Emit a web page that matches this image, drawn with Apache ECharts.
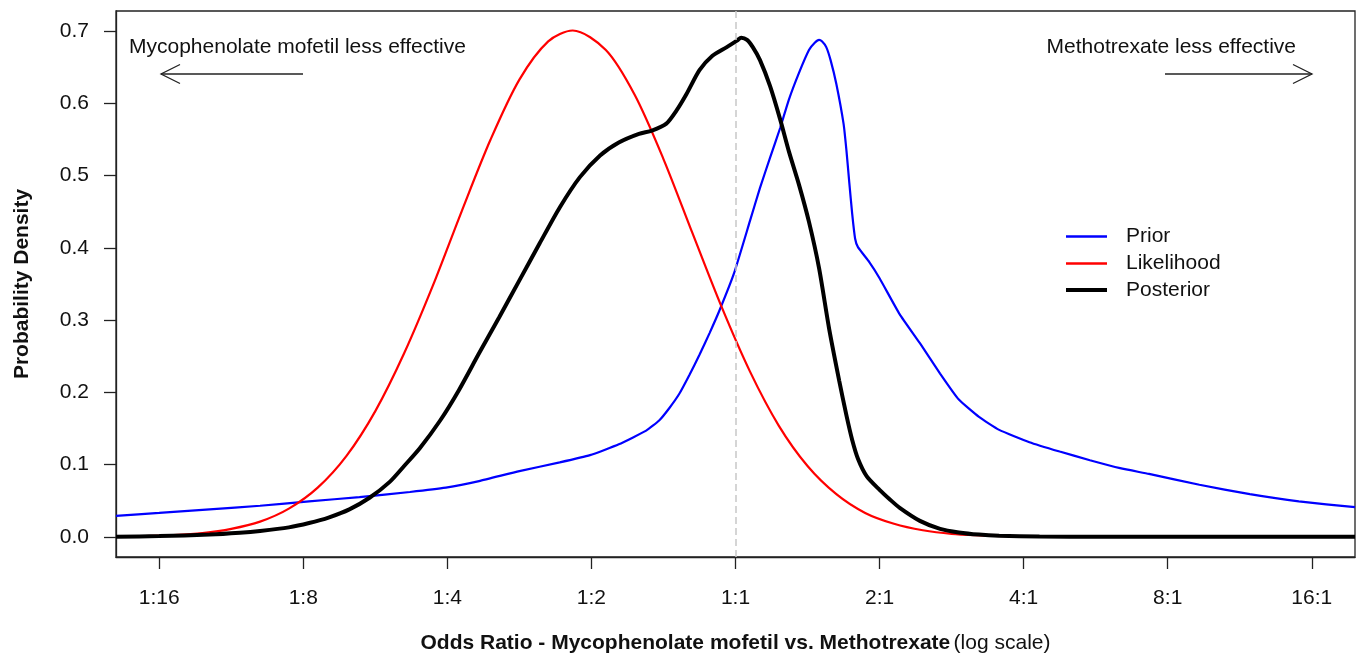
<!DOCTYPE html>
<html>
<head>
<meta charset="utf-8">
<script src="https://cdn.jsdelivr.net/npm/echarts@6/dist/echarts.min.js"></script>
<style>
html,body{margin:0;padding:0;background:#fff;}
#chart{width:1361px;height:660px;}
</style>
</head>
<body>
<div id="chart"></div>
<script>
// x values are log2(odds ratio)
const xTickValues = [-4, -3, -2, -1, 0, 1, 2, 3, 4];
const xTickLabels = ['1:16', '1:8', '1:4', '1:2', '1:1', '2:1', '4:1', '8:1', '16:1'];
const yTickValues = [0, 0.1, 0.2, 0.3, 0.4, 0.5, 0.6, 0.7];

const priorLog2OR = [-4.30,-4.00,-3.65,-3.30,-2.96,-2.61,-2.26,-2.01,-1.78,-1.50,-1.22,-1.01,-0.81,-0.62,-0.53,-0.46,-0.39,-0.32,-0.25,-0.18,-0.11,-0.01,0.10,0.17,0.24,0.31,0.37,0.44,0.51,0.55,0.58,0.60,0.63,0.66,0.70,0.75,0.77,0.79,0.81,0.83,0.85,0.93,1.00,1.14,1.28,1.42,1.55,1.69,1.83,2.04,2.25,2.46,2.67,2.87,3.22,3.57,3.91,4.30];
const priorDensity = [0.029,0.033,0.038,0.043,0.049,0.055,0.062,0.068,0.077,0.091,0.103,0.113,0.128,0.147,0.161,0.178,0.198,0.224,0.252,0.282,0.314,0.365,0.437,0.483,0.525,0.566,0.605,0.642,0.674,0.684,0.688,0.686,0.678,0.660,0.627,0.572,0.535,0.490,0.447,0.413,0.401,0.380,0.358,0.308,0.268,0.226,0.190,0.166,0.148,0.131,0.118,0.106,0.095,0.087,0.072,0.059,0.049,0.041];

const likLog2OR = [-4.3,-4.1,-3.9,-3.7,-3.5,-3.3,-3.1,-2.9,-2.7,-2.5,-2.3,-2.1,-1.9,-1.7,-1.5,-1.3,-1.13,-0.9,-0.7,-0.5,-0.3,-0.1,0.1,0.3,0.5,0.7,0.9,1.1,1.3,1.5,1.7,1.9,2.07];
const likDensity = [0.0004,0.001,0.0024,0.0052,0.011,0.021,0.039,0.068,0.112,0.174,0.254,0.348,0.451,0.550,0.633,0.686,0.701,0.674,0.612,0.523,0.421,0.320,0.229,0.154,0.098,0.059,0.033,0.018,0.009,0.004,0.002,0.0008,0.0004];

const postLog2OR = [-4.30,-4.00,-3.65,-3.44,-3.30,-3.10,-2.96,-2.82,-2.68,-2.54,-2.40,-2.30,-2.19,-2.05,-1.92,-1.78,-1.64,-1.50,-1.36,-1.22,-1.08,-0.94,-0.81,-0.67,-0.58,-0.48,-0.41,-0.34,-0.25,-0.16,-0.06,0.01,0.04,0.08,0.12,0.17,0.24,0.31,0.37,0.44,0.51,0.58,0.65,0.72,0.77,0.81,0.85,0.91,1.00,1.07,1.14,1.28,1.42,1.55,1.69,1.83,2.11,2.53,4.30];
const postDensity = [0.000,0.001,0.003,0.0055,0.008,0.013,0.019,0.027,0.038,0.054,0.076,0.098,0.123,0.161,0.203,0.254,0.304,0.355,0.406,0.456,0.498,0.528,0.546,0.558,0.5625,0.572,0.590,0.613,0.646,0.666,0.678,0.687,0.691,0.688,0.678,0.660,0.624,0.578,0.534,0.488,0.436,0.372,0.288,0.216,0.168,0.134,0.108,0.084,0.065,0.052,0.040,0.022,0.011,0.006,0.003,0.0015,0.0005,0.000,0.000];

const FONT = '"Liberation Sans", Arial, Helvetica, sans-serif';
const pairs = (xs, ys) => xs.map((x, i) => [x, ys[i]]);
const xLabelFor = v => xTickLabels[xTickValues.indexOf(Math.round(v))];

const legendBase = {
  orient: 'vertical', left: 1066, padding: 0, icon: 'rect',
  itemWidth: 41, selectedMode: false,
  textStyle: {fontFamily: FONT, fontSize: 21, color: '#111', padding: [3, 0, 0, 14]}
};

const chart = echarts.init(document.getElementById('chart'), null, {renderer: 'canvas'});
chart.setOption({
  backgroundColor: '#ffffff',
  animation: false,
  textStyle: {fontFamily: FONT},
  grid: {left: 116, right: 6, top: 11, bottom: 103, show: true, borderColor: '#222', borderWidth: 1.3, containLabel: false},
  legend: [
    Object.assign({}, legendBase, {data: ['Prior'], top: 226, itemHeight: 2.4}),
    Object.assign({}, legendBase, {data: ['Likelihood'], top: 253, itemHeight: 2.4}),
    Object.assign({}, legendBase, {data: ['Posterior'], top: 279.5, itemHeight: 4})
  ],
  xAxis: {
    type: 'value', min: -4.3, max: 4.3,
    name: '{b|Odds Ratio - Mycophenolate mofetil vs. Methotrexate} {n|(log scale)}',
    nameLocation: 'middle', nameGap: 76,
    nameTextStyle: {rich: {
      b: {fontFamily: FONT, fontSize: 21, fontWeight: 'bold', color: '#111'},
      n: {fontFamily: FONT, fontSize: 21, color: '#111'}
    }},
    axisLine: {show: true, onZero: false, lineStyle: {color: '#222', width: 1.3}},
    axisTick: {show: true, inside: false, length: 12, customValues: xTickValues, lineStyle: {color: '#222', width: 1.3}},
    axisLabel: {show: true, customValues: xTickValues, margin: 31, fontFamily: FONT, fontSize: 21, color: '#111', formatter: v => xLabelFor(v)},
    splitLine: {show: false}
  },
  yAxis: {
    type: 'value', min: -0.028, max: 0.728,
    name: 'Probability Density',
    nameLocation: 'middle', nameGap: 83,
    nameTextStyle: {fontFamily: FONT, fontSize: 21, fontWeight: 'bold', color: '#111'},
    axisLine: {show: true, onZero: false, lineStyle: {color: '#222', width: 1.3}},
    axisTick: {show: true, inside: false, length: 12, customValues: yTickValues, lineStyle: {color: '#222', width: 1.3}},
    axisLabel: {show: true, customValues: yTickValues, margin: 27, padding: [3, 0, 0, 0], fontFamily: FONT, fontSize: 21, color: '#111', formatter: v => v.toFixed(1)},
    splitLine: {show: false}
  },
  series: [
    {
      name: 'ref', type: 'line', data: [], silent: true,
      markLine: {silent: true, symbol: 'none', label: {show: false},
        lineStyle: {color: '#c8c8c8', type: [7, 4], width: 1.5},
        data: [{xAxis: 0}]}
    },
    {name: 'Prior', type: 'line', data: pairs(priorLog2OR, priorDensity), symbol: 'none', smooth: 0.15,
      lineStyle: {color: '#0000ff', width: 2.2}, itemStyle: {color: '#0000ff'}},
    {name: 'Likelihood', type: 'line', data: pairs(likLog2OR, likDensity), symbol: 'none', smooth: 0.3,
      lineStyle: {color: '#ff0000', width: 2.2}, itemStyle: {color: '#ff0000'}},
    {name: 'Posterior', type: 'line', data: pairs(postLog2OR, postDensity), symbol: 'none', smooth: 0.25,
      lineStyle: {color: '#000000', width: 4}, itemStyle: {color: '#000000'}}
  ],
  graphic: [
    {type: 'text', left: 129, top: 37, style: {text: 'Mycophenolate mofetil less effective', font: '21px ' + FONT, fill: '#111'}},
    {type: 'text', right: 1361 - 1296, top: 37, style: {text: 'Methotrexate less effective', font: '21px ' + FONT, fill: '#111'}},
    {type: 'polyline', shape: {points: [[303, 74], [161, 74]]}, style: {stroke: '#222', lineWidth: 1.3, fill: null}},
    {type: 'polyline', shape: {points: [[180, 64.5], [161, 74], [180, 83.5]]}, style: {stroke: '#222', lineWidth: 1.3, fill: null}},
    {type: 'polyline', shape: {points: [[1165, 74], [1312, 74]]}, style: {stroke: '#222', lineWidth: 1.3, fill: null}},
    {type: 'polyline', shape: {points: [[1293, 64.5], [1312, 74], [1293, 83.5]]}, style: {stroke: '#222', lineWidth: 1.3, fill: null}}
  ]
});
</script>
</body>
</html>
